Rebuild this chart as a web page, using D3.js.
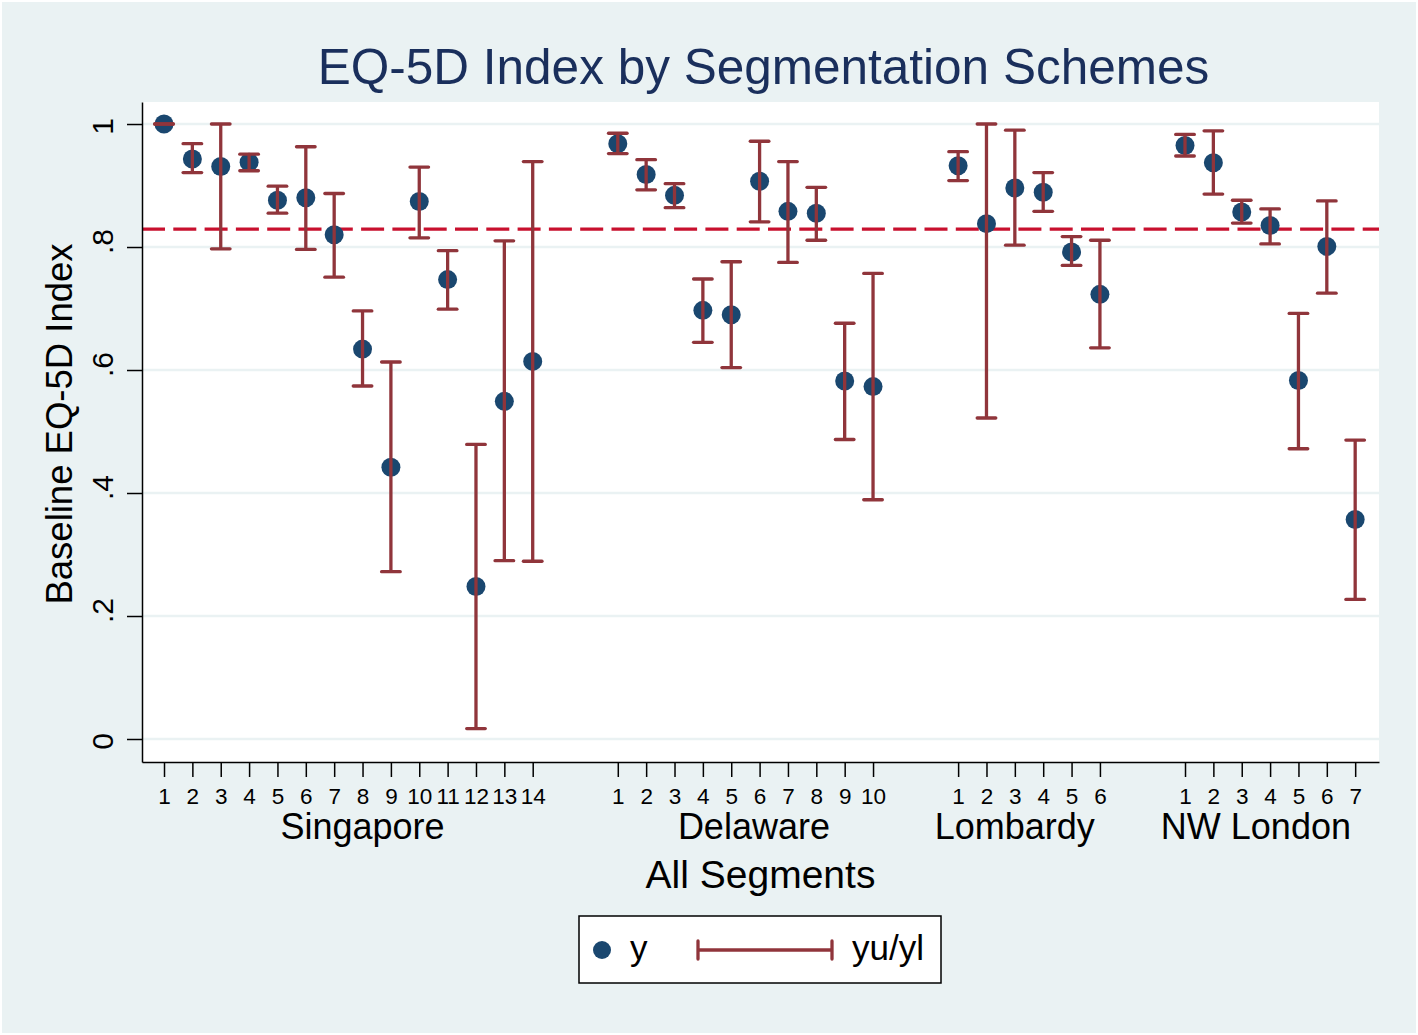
<!DOCTYPE html>
<html>
<head>
<meta charset="utf-8">
<script src="https://cdn.jsdelivr.net/npm/d3@7"></script>
<style>
  body { margin: 0; background: #ffffff; }
  text { font-family: "Liberation Sans", Arial, sans-serif; }
</style>
</head>
<body>
<div id="chart"></div>
<script>
var svgWidth = 1418;
var svgHeight = 1035;

// plot region inside the graph
var plot = { left: 142, right: 1379, top: 102, bottom: 762 };

// Data
var groups = ["Singapore", "Delaware", "Lombardy", "NW London"];

var yMean = [
  [1.000, 0.943, 0.931, 0.938, 0.876, 0.880, 0.820, 0.634, 0.442, 0.874, 0.747, 0.248, 0.549, 0.614],
  [0.968, 0.918, 0.884, 0.697, 0.690, 0.907, 0.858, 0.855, 0.582, 0.573],
  [0.932, 0.838, 0.896, 0.889, 0.792, 0.723],
  [0.965, 0.937, 0.857, 0.835, 0.583, 0.801, 0.357]
];
var yUpper = [
  [1.000, 0.968, 1.000, 0.951, 0.899, 0.963, 0.887, 0.696, 0.613, 0.930, 0.794, 0.479, 0.810, 0.939],
  [0.985, 0.942, 0.903, 0.748, 0.776, 0.972, 0.939, 0.897, 0.676, 0.757],
  [0.955, 1.000, 0.990, 0.921, 0.817, 0.811],
  [0.983, 0.989, 0.876, 0.862, 0.692, 0.875, 0.486]
];
var yLower = [
  [1.000, 0.921, 0.797, 0.924, 0.855, 0.796, 0.751, 0.574, 0.272, 0.815, 0.699, 0.017, 0.290, 0.289],
  [0.952, 0.893, 0.864, 0.645, 0.604, 0.841, 0.775, 0.811, 0.487, 0.389],
  [0.908, 0.522, 0.803, 0.858, 0.770, 0.636],
  [0.948, 0.886, 0.839, 0.805, 0.472, 0.725, 0.227]
];
// segment (within group) under which each group name sits
var groupLabelSeg = [8, 5.8, 3, 3.5];
var overallMean = 0.829;
var yTicks = [0, 0.2, 0.4, 0.6, 0.8, 1];
var yTickLabels = ["0", ".2", ".4", ".6", ".8", "1"];

var bgColor = "#eaf2f3";
var navy = "#1a476f";
var maroon = "#90353b";

// build rows, leaving two empty slots between groups
var rows = [];
var groupStart = [];
var pos = 0;
groups.forEach(function (g, gi) {
  groupStart.push(pos);
  yMean[gi].forEach(function (v, i) {
    pos += 1;
    rows.push({ group: g, seg: i + 1, x: pos, y: v, hi: yUpper[gi][i], lo: yLower[gi][i] });
  });
  pos += 2;
});

var svg = d3.select("#chart")
  .append("svg")
  .attr("width", svgWidth)
  .attr("height", svgHeight);

// outer background
svg.append("rect")
  .attr("x", 2).attr("y", 2)
  .attr("width", svgWidth - 4).attr("height", svgHeight - 4)
  .attr("fill", bgColor);

// scales
var xScale = d3.scaleLinear()
  .domain([0.224, 43.84])
  .range([plot.left, plot.right]);

var yScale = d3.scaleLinear()
  .domain([-0.0374, 1.0358])
  .range([plot.bottom, plot.top]);

// plot region
svg.append("rect")
  .attr("x", plot.left).attr("y", plot.top)
  .attr("width", plot.right - plot.left)
  .attr("height", plot.bottom - plot.top)
  .attr("fill", "#ffffff");

// gridlines
svg.append("g")
  .selectAll("line")
  .data(yTicks)
  .enter()
  .append("line")
  .attr("x1", plot.left).attr("x2", plot.right)
  .attr("y1", d => yScale(d)).attr("y2", d => yScale(d))
  .attr("stroke", bgColor)
  .attr("stroke-width", 2.5);

// overall mean reference line
svg.append("line")
  .attr("x1", plot.left).attr("x2", plot.right)
  .attr("y1", yScale(overallMean)).attr("y2", yScale(overallMean))
  .attr("stroke", "#c8102e")
  .attr("stroke-width", 3.3)
  .attr("stroke-dasharray", "23,8.3");

// y axis
var leftAxis = d3.axisLeft(yScale)
  .tickValues(yTicks)
  .tickFormat((d, i) => yTickLabels[i])
  .tickSize(15)
  .tickSizeOuter(0);

var yAxis = svg.append("g")
  .attr("transform", `translate(${plot.left}, 0)`)
  .call(leftAxis);

yAxis.select(".domain").attr("stroke", "#000").attr("stroke-width", 1.5);
yAxis.selectAll(".tick line").attr("stroke", "#000").attr("stroke-width", 1.5);
yAxis.selectAll(".tick text")
  .attr("transform", "rotate(-90)")
  .attr("x", (d, i) => yTickLabels[i].charAt(0) === "." ? 6 : -2)
  .attr("y", -29)
  .attr("dy", 0)
  .attr("text-anchor", "middle")
  .attr("fill", "#000")
  .style("font-size", "30px")
  .style("font-family", "'Liberation Sans', Arial, sans-serif");

// x axis
var bottomAxis = d3.axisBottom(xScale)
  .tickValues(rows.map(d => d.x))
  .tickFormat((d, i) => rows[i].seg)
  .tickSize(15)
  .tickPadding(11)
  .tickSizeOuter(0);

var xAxis = svg.append("g")
  .attr("transform", `translate(0, ${plot.bottom})`)
  .call(bottomAxis);

xAxis.select(".domain").attr("stroke", "#000").attr("stroke-width", 1.5);
xAxis.selectAll(".tick line").attr("stroke", "#000").attr("stroke-width", 1.5);
xAxis.selectAll(".tick text")
  .attr("fill", "#000")
  .style("font-size", "22.5px")
  .style("font-family", "'Liberation Sans', Arial, sans-serif");

// group names under the ticks
svg.append("g")
  .selectAll("text")
  .data(groups)
  .enter()
  .append("text")
  .attr("x", (d, i) => xScale(groupStart[i] + groupLabelSeg[i]))
  .attr("y", 839)
  .attr("text-anchor", "middle")
  .style("font-size", "36px")
  .text(d => d);

// axis titles
svg.append("text")
  .attr("x", (plot.left + plot.right) / 2)
  .attr("y", 888)
  .attr("text-anchor", "middle")
  .style("font-size", "39px")
  .text("All Segments");

svg.append("text")
  .attr("transform", "translate(72, 424) rotate(-90)")
  .attr("text-anchor", "middle")
  .style("font-size", "36.5px")
  .text("Baseline EQ-5D Index");

// title
svg.append("text")
  .attr("x", 763.5)
  .attr("y", 84)
  .attr("text-anchor", "middle")
  .attr("fill", "#1a2f5c")
  .style("font-size", "49.5px")
  .text("EQ-5D Index by Segmentation Schemes");

// points
svg.append("g")
  .selectAll("circle")
  .data(rows)
  .enter()
  .append("circle")
  .attr("cx", d => xScale(d.x))
  .attr("cy", d => yScale(d.y))
  .attr("r", 9.5)
  .attr("fill", navy);

// error bars (drawn over the points)
var capHalf = 9.3;
var bars = svg.append("g")
  .attr("stroke", maroon)
  .attr("stroke-width", 3.3)
  .attr("fill", "none")
  .selectAll("g")
  .data(rows)
  .enter()
  .append("g");

bars.append("line")
  .attr("x1", d => xScale(d.x)).attr("x2", d => xScale(d.x))
  .attr("y1", d => yScale(d.hi)).attr("y2", d => yScale(d.lo));

bars.append("line")
  .attr("stroke-linecap", "round")
  .attr("x1", d => xScale(d.x) - capHalf).attr("x2", d => xScale(d.x) + capHalf)
  .attr("y1", d => yScale(d.hi)).attr("y2", d => yScale(d.hi));

bars.append("line")
  .attr("stroke-linecap", "round")
  .attr("x1", d => xScale(d.x) - capHalf).attr("x2", d => xScale(d.x) + capHalf)
  .attr("y1", d => yScale(d.lo)).attr("y2", d => yScale(d.lo));

// legend
var legend = svg.append("g");

legend.append("rect")
  .attr("x", 579).attr("y", 916)
  .attr("width", 362).attr("height", 67)
  .attr("fill", "#ffffff")
  .attr("stroke", "#000")
  .attr("stroke-width", 1.5);

legend.append("circle")
  .attr("cx", 602).attr("cy", 950)
  .attr("r", 9)
  .attr("fill", navy);

legend.append("text")
  .attr("x", 630).attr("y", 960)
  .style("font-size", "35px")
  .text("y");

var legBar = legend.append("g")
  .attr("stroke", maroon)
  .attr("stroke-width", 3.3);

legBar.append("line")
  .attr("x1", 698).attr("x2", 832)
  .attr("y1", 950).attr("y2", 950);
legBar.append("line")
  .attr("stroke-linecap", "round")
  .attr("x1", 698).attr("x2", 698)
  .attr("y1", 941).attr("y2", 959);
legBar.append("line")
  .attr("stroke-linecap", "round")
  .attr("x1", 832).attr("x2", 832)
  .attr("y1", 941).attr("y2", 959);

legend.append("text")
  .attr("x", 852).attr("y", 960)
  .style("font-size", "35px")
  .text("yu/yl");
</script>
</body>
</html>
